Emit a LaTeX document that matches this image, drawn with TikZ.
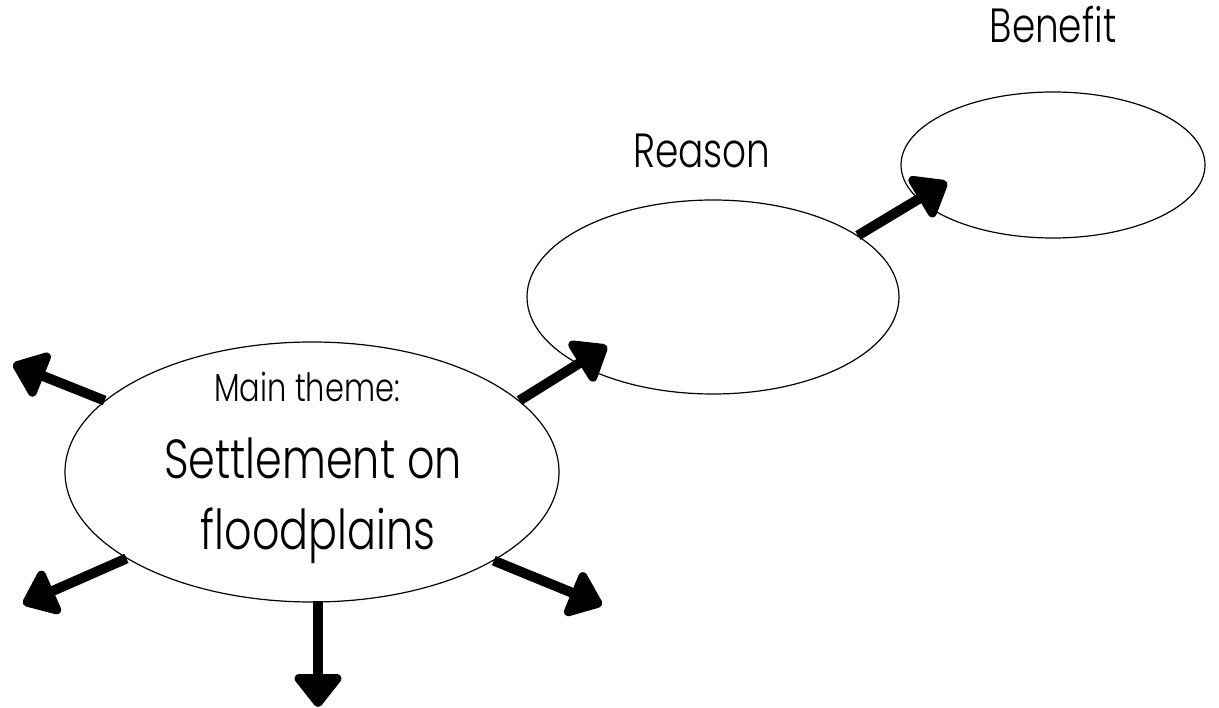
\documentclass[tikz,border=0pt]{standalone}
\usepackage{fontspec}
\setmainfont{Poppins}[UprightFont={* Light},FakeStretch=0.78]
\usetikzlibrary{shapes.geometric,arrows.meta}
\tikzset{
  bubble/.style={draw=black,line width=1.2pt,ellipse,inner sep=0pt,fill=white},
  bigarrow/.style={line width=10pt,line cap=butt,-{Triangle[length=36pt,width=54pt,round]}},
  lbl/.style={inner sep=0pt,anchor=base,font=\fontsize{48}{56}\selectfont}
}
\begin{document}
\begin{tikzpicture}[x=1pt,y=-1pt]
\fill[white] (0,0) rectangle (1219,708);
\useasboundingbox (0,0) rectangle (1219,708);
% ellipses
\node[bubble,minimum width=494pt,minimum height=260pt] (main) at (312,472) {};
\node[bubble,minimum width=372pt,minimum height=194pt] (reason) at (713,297) {};
\node[bubble,minimum width=304pt,minimum height=146pt] (benefit) at (1053,165) {};
% texts
\node[lbl] (reasonlbl) at (702,168) {Reason};
\node[lbl] (benefitlbl) at (1053,43) {Benefit};
\node[inner sep=0pt,anchor=base,font=\fontsize{39}{45}\selectfont] (mainsmall) at (307,402) {Main theme:};
\node[inner sep=0pt,anchor=base,font=\fontsize{55}{62}\selectfont] (mainl1) at (313,479) {Settlement on};
\node[inner sep=0pt,anchor=base,font=\fontsize{55}{62}\selectfont] (mainl2) at (318,549) {floodplains};
% arrow tips
\coordinate (tipR) at (607,346);
\coordinate (tipB) at (947,182);
\coordinate (tipUL) at (13,364);
\coordinate (tipLL) at (23,604);
\coordinate (tipD) at (318,707);
\coordinate (tipLR) at (602,605);
\coordinate (startD) at (318,601);
% arrows
\draw[bigarrow] (main.19.5) -- (tipR);
\draw[bigarrow] (reason.23.3) -- (tipB);
\draw[bigarrow] (main.161.8) -- (tipUL);
\draw[bigarrow] (main.205.6) -- (tipLL);
\draw[bigarrow] (startD) -- (tipD);
\draw[bigarrow] (main.334.8) -- (tipLR);
\end{tikzpicture}
\end{document}
